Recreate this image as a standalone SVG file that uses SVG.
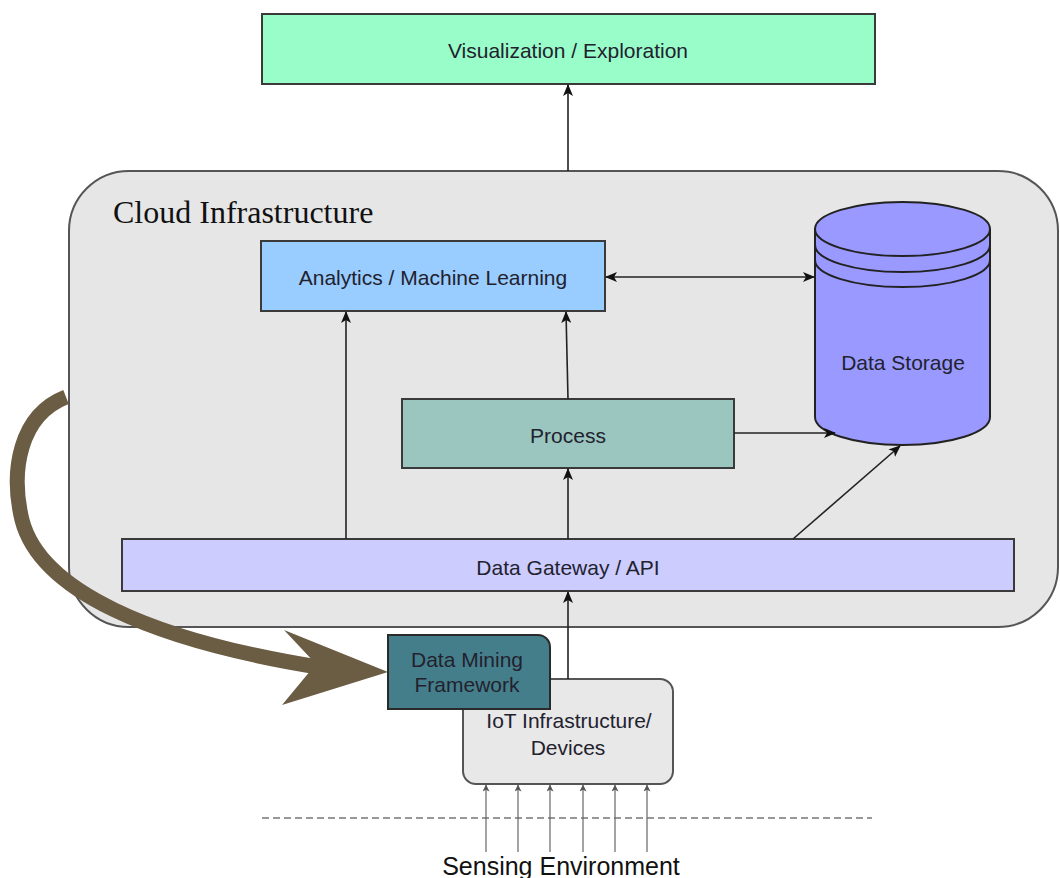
<svg xmlns="http://www.w3.org/2000/svg" width="1060" height="878" viewBox="0 0 1060 878">
  <style>
    .box { stroke: #3a3a3a; stroke-width: 2; }
    .lbl { font-family: "Liberation Sans", Arial, sans-serif; font-size: 21px; fill: #22222e; text-anchor: middle; }
    .conn { stroke: #222; stroke-width: 1.6; fill: none; }
    .sense { stroke: #666; stroke-width: 1.2; fill: none; }
  </style>
  <defs>
    <marker id="ah" viewBox="0 0 12 10" refX="11" refY="5" markerWidth="12" markerHeight="10" markerUnits="userSpaceOnUse" orient="auto-start-reverse">
      <path d="M0,0 L12,5 L0,10 L3,5 z" fill="#111"/>
    </marker>
    <marker id="ahs" viewBox="0 0 8 8" refX="7.5" refY="4" markerWidth="7" markerHeight="7" markerUnits="userSpaceOnUse" orient="auto">
      <path d="M0,0 L8,4 L0,8 L2,4 z" fill="#555"/>
    </marker>
  </defs>

  <!-- cloud container -->
  <g id="cloud">
    <rect x="69" y="171" width="989" height="456" rx="60" ry="60" fill="#e6e6e6" stroke="#555" stroke-width="2"/>
    <text x="113" y="223" font-family="'Liberation Serif', 'Times New Roman', serif" font-size="32" fill="#111">Cloud Infrastructure</text>
  </g>

  <!-- nodes -->
  <g id="visualization">
    <rect class="box" x="262" y="14" width="613" height="70" fill="#99fdca"/>
    <text class="lbl" x="568" y="58">Visualization / Exploration</text>
  </g>

  <g id="analytics">
    <rect class="box" x="261" y="241" width="344" height="70" fill="#99ccff"/>
    <text class="lbl" x="433" y="285">Analytics / Machine Learning</text>
  </g>

  <g id="storage">
    <path d="M815,229 L815,417 A87.5,28 0 0 0 990,417 L990,229" fill="#9999ff" stroke="#222" stroke-width="2"/>
    <ellipse cx="902.5" cy="229" rx="87.5" ry="27" fill="#9999ff" stroke="#222" stroke-width="2"/>
    <path d="M815,245 A87.5,27 0 0 0 990,245 M815,260 A87.5,27 0 0 0 990,260" fill="none" stroke="#222" stroke-width="2"/>
    <text class="lbl" x="903" y="370">Data Storage</text>
  </g>

  <g id="process">
    <rect class="box" x="402" y="399" width="332" height="69" fill="#9ac6bf"/>
    <text class="lbl" x="568" y="443">Process</text>
  </g>

  <g id="gateway">
    <rect class="box" x="122" y="539" width="892" height="52" fill="#ccccff"/>
    <text class="lbl" x="568" y="575">Data Gateway / API</text>
  </g>

  <g id="iot">
    <rect x="463" y="679" width="210" height="105" rx="13" ry="13" fill="#e8e8e8" stroke="#555" stroke-width="2"/>
    <text class="lbl" x="569" y="728" font-size="20">IoT Infrastructure/</text>
    <text class="lbl" x="568" y="755" font-size="20">Devices</text>
  </g>

  <g id="mining">
    <path d="M388,635 L538,635 A12,12 0 0 1 550,647 L550,709 L388,709 z" fill="#457e8b" stroke="#2a2a2a" stroke-width="2"/>
    <text class="lbl" x="467" y="667" fill="#111">Data Mining</text>
    <text class="lbl" x="467" y="692" fill="#111">Framework</text>
  </g>

  <!-- connectors -->
  <g id="connectors">
    <line class="conn" x1="568" y1="171" x2="568" y2="85" marker-end="url(#ah)"/>
    <line class="conn" x1="606" y1="277" x2="814" y2="277" marker-start="url(#ah)" marker-end="url(#ah)"/>
    <line class="conn" x1="568" y1="399" x2="566" y2="312" marker-end="url(#ah)"/>
    <line class="conn" x1="734" y1="433" x2="835" y2="433" marker-end="url(#ah)"/>
    <line class="conn" x1="346" y1="539" x2="346" y2="312" marker-end="url(#ah)"/>
    <line class="conn" x1="568" y1="539" x2="568" y2="469" marker-end="url(#ah)"/>
    <line class="conn" x1="793" y1="539" x2="900" y2="446" marker-end="url(#ah)"/>
    <line class="conn" x1="568" y1="679" x2="568" y2="592" marker-end="url(#ah)"/>

    <!-- mining feedback arrow -->
    <path d="M66,397 C20,415 10,470 22,520 C40,590 150,640 318,667" fill="none" stroke="#6b5c44" stroke-width="15"/>
    <path d="M388,672 L284,630 L316,664 L282,705 z" fill="#6b5c44"/>

    <!-- sensing inputs -->
    <line x1="262" y1="818" x2="872" y2="818" stroke="#333" stroke-width="1.2" stroke-dasharray="7 4"/>
    <line class="sense" x1="486" y1="852" x2="486" y2="785" marker-end="url(#ahs)"/>
    <line class="sense" x1="518" y1="852" x2="518" y2="785" marker-end="url(#ahs)"/>
    <line class="sense" x1="550" y1="852" x2="550" y2="785" marker-end="url(#ahs)"/>
    <line class="sense" x1="583" y1="852" x2="583" y2="785" marker-end="url(#ahs)"/>
    <line class="sense" x1="615" y1="852" x2="615" y2="785" marker-end="url(#ahs)"/>
    <line class="sense" x1="647" y1="852" x2="647" y2="785" marker-end="url(#ahs)"/>
  </g>

  <text x="561" y="875" font-family="'Liberation Sans', Arial, sans-serif" font-size="25" fill="#111" text-anchor="middle">Sensing Environment</text>
</svg>
